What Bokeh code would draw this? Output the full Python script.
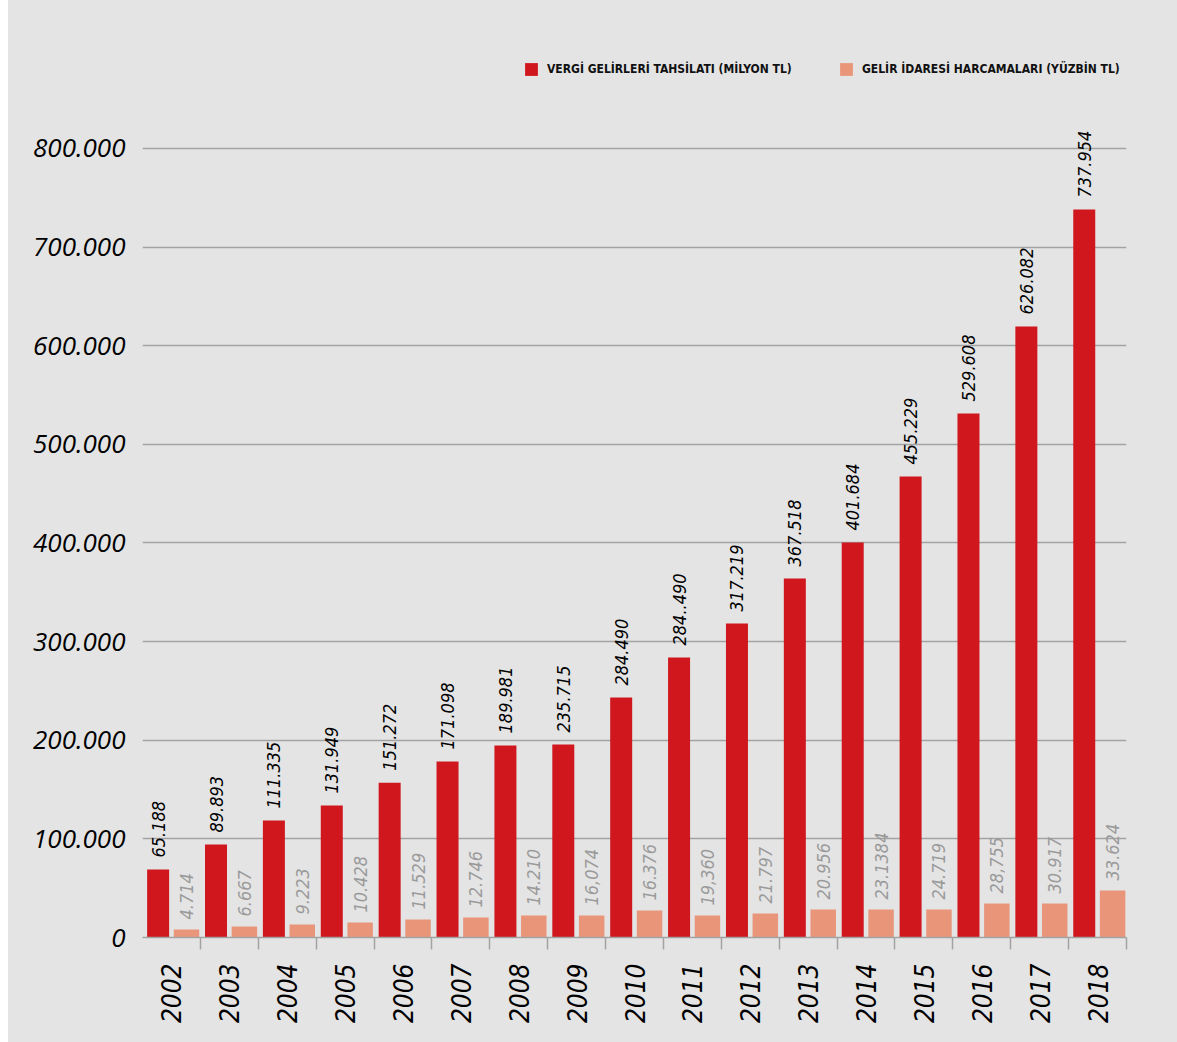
import math
from bokeh.plotting import figure
from bokeh.models import Range1d, FixedTicker, Legend, LegendItem, ColumnDataSource, Spacer
from bokeh.layouts import row
from bokeh.core.properties import value
from bokeh.embed import file_html
from bokeh.resources import INLINE

years = ["2002", "2003", "2004", "2005", "2006", "2007", "2008", "2009", "2010",
         "2011", "2012", "2013", "2014", "2015", "2016", "2017", "2018"]
# bar heights as drawn in the picture
vergi = [68900, 94300, 118600, 133800, 157000, 178500, 194700, 195700, 243300,
         283900, 318400, 364000, 400500, 467400, 531300, 619500, 738100]
idare = [8100, 11200, 13200, 15200, 18300, 20300, 22300, 22300, 27400,
         22300, 24300, 28400, 28400, 28400, 34500, 34500, 47700]
# value labels as printed
vergi_labels = ["65.188", "89.893", "111.335", "131.949", "151.272", "171.098", "189.981",
                "235.715", "284.490", "284..490", "317.219", "367.518", "401.684",
                "455.229", "529.608", "626.082", "737.954"]
idare_labels = ["4.714", "6.667", "9.223", "10.428", "11.529", "12.746", "14.210",
                "16,074", "16.376", "19,360", "21.797", "20.956", "23.1384", "24.719",
                "28,755", "30.917", "33.624"]
y_ticks = [0, 100000, 200000, 300000, 400000, 500000, 600000, 700000, 800000]
y_tick_labels = ["0", "100.000", "200.000", "300.000", "400.000", "500.000",
                 "600.000", "700.000", "800.000"]
series_names = ["VERGİ GELİRLERİ TAHSİLATI (MİLYON TL)",
                "GELİR İDARESİ HARCAMALARI (YÜZBİN TL)"]

RED = "#cf171d"
ORANGE = "#e8957a"
BG = "#e4e4e4"
GRID = "#a2a2a2"
NARROW_NAME = "'DejaVu Sans Condensed', Roboto, sans-serif"
NARROW = value(NARROW_NAME)

n = len(years)
x_red = [i + 0.27 for i in range(n)]
x_or = [i + 0.76 for i in range(n)]

p = figure(width=1169, height=1042, output_backend="svg", toolbar_location=None,
           x_range=Range1d(0, n), y_range=Range1d(0, 909500),
           min_border_left=134, min_border_right=51, min_border_top=40,
           min_border_bottom=105, styles={"background-color": BG})
p.background_fill_alpha = 0
p.border_fill_alpha = 0
p.outline_line_color = None

src_red = ColumnDataSource(dict(x=x_red, top=vergi, lab=vergi_labels))
src_or = ColumnDataSource(dict(x=x_or, top=idare, lab=idare_labels))

r1 = p.vbar(x="x", top="top", width=0.38, bottom=0, source=src_red,
            fill_color=RED, line_color=None)
r2 = p.vbar(x="x", top="top", width=0.44, bottom=0, source=src_or,
            fill_color=ORANGE, line_color=None)

p.text(x="x", y="top", text="lab", source=src_red, angle=math.pi / 2,
       text_align="left", text_baseline="middle", y_offset=-12,
       text_font=NARROW, text_font_style="italic", text_font_size="18px",
       text_color="#000000")
p.text(x="x", y="top", text="lab", source=src_or, angle=math.pi / 2,
       text_align="left", text_baseline="middle", y_offset=-10,
       text_font=NARROW, text_font_style="italic", text_font_size="18px",
       text_color="#9a9a9a")

# y axis
p.yaxis.ticker = FixedTicker(ticks=y_ticks)
p.yaxis.major_label_overrides = {t: l for t, l in zip(y_ticks, y_tick_labels)}
p.yaxis.axis_line_color = None
p.yaxis.major_tick_line_color = None
p.yaxis.minor_tick_line_color = None
p.yaxis.major_label_standoff = 11
p.yaxis.major_label_text_font = "Open Sans"
p.yaxis.major_label_text_font_style = "italic"
p.yaxis.major_label_text_font_size = "26px"
p.yaxis.major_label_text_color = "#000000"
p.ygrid.ticker = FixedTicker(ticks=y_ticks[1:])
p.ygrid.grid_line_color = GRID
p.ygrid.grid_line_width = 1.5
p.xgrid.grid_line_color = None

# x axis
p.xaxis.ticker = FixedTicker(ticks=[i + 0.5 for i in range(n)],
                             minor_ticks=[i + 1 for i in range(n)])
p.xaxis.major_label_overrides = {i + 0.5: y for i, y in enumerate(years)}
p.xaxis.major_label_orientation = math.pi / 2
p.xaxis.axis_line_color = GRID
p.xaxis.axis_line_width = 1.5
p.xaxis.major_tick_line_color = None
p.xaxis.minor_tick_line_color = GRID
p.xaxis.minor_tick_line_width = 1.5
p.xaxis.minor_tick_in = 0
p.xaxis.minor_tick_out = 12
p.xaxis.major_label_standoff = 14
p.xaxis.major_label_text_font = NARROW_NAME
p.xaxis.major_label_text_font_style = "italic"
p.xaxis.major_label_text_font_size = "26px"
p.xaxis.major_label_text_color = "#000000"

for r, name, loc in [(r1, series_names[0], (381, 860)), (r2, series_names[1], (696, 860))]:
    lg = Legend(items=[LegendItem(label=name, renderers=[r])], location=loc,
                glyph_width=16, glyph_height=16, label_standoff=8,
                padding=0, margin=0, spacing=0,
                border_line_color=None, background_fill_alpha=0,
                label_text_font=NARROW_NAME, label_text_font_style="bold",
                label_text_font_size="12px", label_text_color="#111111",
                label_height=16)
    p.add_layout(lg)

layout = row(Spacer(width=8, height=1042), p)
open("out.html", "w").write(file_html(layout, INLINE))
